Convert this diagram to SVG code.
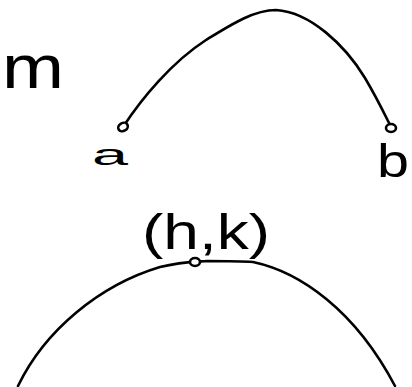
<svg xmlns="http://www.w3.org/2000/svg" width="412" height="387" viewBox="0 0 412 387">
<style>
.ink{fill:none;stroke:#000;stroke-width:2.6;stroke-linecap:round;stroke-linejoin:round}
.pt{fill:#fff;stroke:#000;stroke-width:2.6}
.lbl{font-family:"Liberation Sans","DejaVu Sans",sans-serif;fill:#000}
</style>
<rect width="412" height="387" fill="#fff"/>
<g id="connectors">
<path class="ink" d="M123,127 C142,98 172,62 206,40 C232,24 254,10 276,10 C310,12 345,45 365,78 C378,100 385,115 391,127"/>
<path class="ink" d="M18,386 C45,330 100,285 160,267 C180,262 190,262 207,261 C225,261 240,261 253,262 C300,272 355,310 395,386"/>
</g>
<g id="m-fragment">
<text class="lbl" x="2" y="88" font-size="62" textLength="62" lengthAdjust="spacingAndGlyphs">m</text>
</g>
<g id="node-a">
<ellipse class="pt" cx="123" cy="127" rx="5" ry="4" transform="rotate(-30 123 127)"/>
<text class="lbl" x="92" y="165" font-size="30" textLength="36" lengthAdjust="spacingAndGlyphs">a</text>
</g>
<g id="node-b">
<ellipse class="pt" cx="391" cy="128" rx="5" ry="4"/>
<text class="lbl" x="377" y="177" font-size="46" textLength="32" lengthAdjust="spacingAndGlyphs">b</text>
</g>
<g id="node-hk">
<ellipse class="pt" cx="195" cy="262" rx="5" ry="4"/>
<text class="lbl" x="142" y="249" font-size="50" textLength="128" lengthAdjust="spacingAndGlyphs">(h,k)</text>
</g>
</svg>
